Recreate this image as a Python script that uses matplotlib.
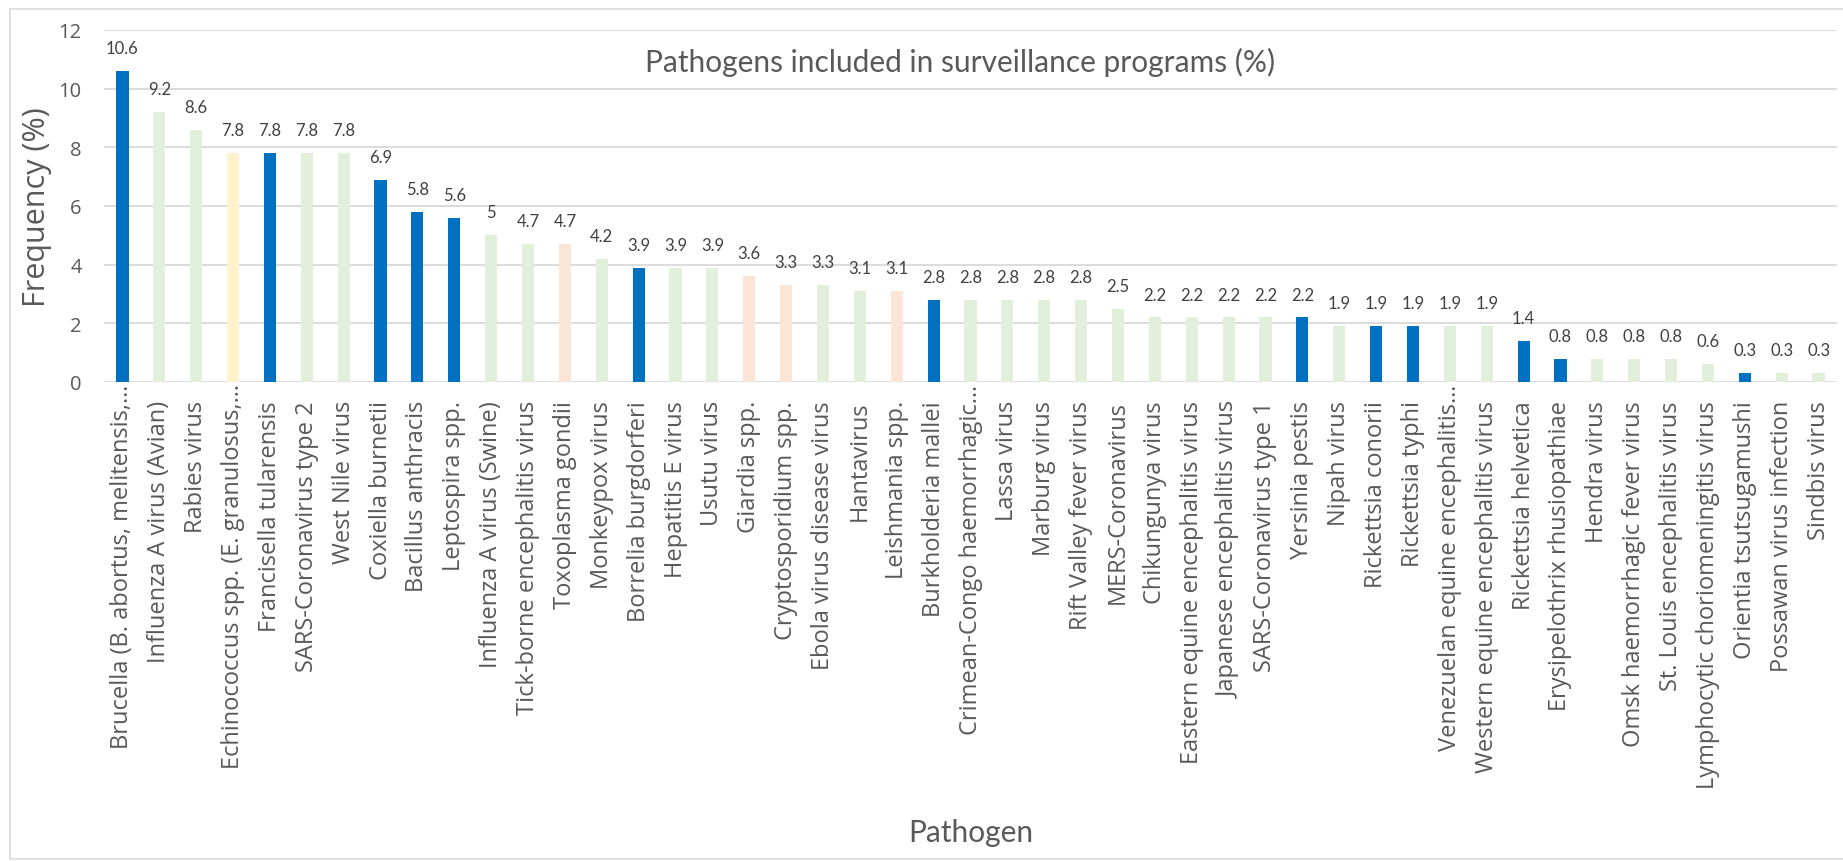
import matplotlib
matplotlib.use('Agg')
import matplotlib.pyplot as plt
import matplotlib.transforms as mtransforms
from matplotlib.patches import Rectangle

# Data
pathogens = [
    'Brucella (B. abortus, melitensis,…', 'Influenza A virus (Avian)', 'Rabies virus',
    'Echinococcus spp. (E. granulosus,…', 'Francisella tularensis', 'SARS-Coronavirus type 2',
    'West Nile virus', 'Coxiella burnetii', 'Bacillus anthracis', 'Leptospira spp.',
    'Influenza A virus (Swine)', 'Tick-borne encephalitis virus', 'Toxoplasma gondii',
    'Monkeypox virus', 'Borrelia burgdorferi', 'Hepatitis E virus', 'Usutu virus',
    'Giardia spp.', 'Cryptosporidium spp.', 'Ebola virus disease virus', 'Hantavirus',
    'Leishmania spp.', 'Burkholderia mallei', 'Crimean-Congo haemorrhagic…', 'Lassa virus',
    'Marburg virus', 'Rift Valley fever virus', 'MERS-Coronavirus', 'Chikungunya virus',
    'Eastern equine encephalitis virus', 'Japanese encephalitis virus', 'SARS-Coronavirus type 1',
    'Yersinia pestis', 'Nipah virus', 'Rickettsia conorii', 'Rickettsia typhi',
    'Venezuelan equine encephalitis…', 'Western equine encephalitis virus', 'Rickettsia helvetica',
    'Erysipelothrix rhusiopathiae', 'Hendra virus', 'Omsk haemorrhagic fever virus',
    'St. Louis encephalitis virus', 'Lymphocytic choriomeningitis virus', 'Orientia tsutsugamushi',
    'Possawan virus infection', 'Sindbis virus',
]
frequency = [
    10.6, 9.2, 8.6, 7.8, 7.8, 7.8, 7.8, 6.9, 5.8, 5.6,
    5, 4.7, 4.7, 4.2, 3.9, 3.9, 3.9, 3.6, 3.3, 3.3,
    3.1, 3.1, 2.8, 2.8, 2.8, 2.8, 2.8, 2.5, 2.2, 2.2,
    2.2, 2.2, 2.2, 1.9, 1.9, 1.9, 1.9, 1.9, 1.4, 0.8,
    0.8, 0.8, 0.8, 0.6, 0.3, 0.3, 0.3,
]
# pathogen type: b = bacteria, v = virus, h = helminth, p = protozoa
ptype = [
    'b', 'v', 'v', 'h', 'b', 'v', 'v', 'b', 'b', 'b',
    'v', 'v', 'p', 'v', 'b', 'v', 'v', 'p', 'p', 'v',
    'v', 'p', 'b', 'v', 'v', 'v', 'v', 'v', 'v', 'v',
    'v', 'v', 'b', 'v', 'b', 'b', 'v', 'v', 'b', 'b',
    'v', 'v', 'v', 'v', 'b', 'v', 'v',
]
yticks = [0, 2, 4, 6, 8, 10, 12]

type_colors = {'b': '#0070C0', 'v': '#E2EFDA', 'h': '#FFF2CC', 'p': '#FBE5D6'}
grey = '#595959'

W, H = 1843, 862
fig = plt.figure(figsize=(W / 100, H / 100), dpi=100)
ax = fig.add_axes([104 / W, 1 - 383 / H, (1837 - 104) / W, (383 - 31) / H])

# chart border
fig.patches.append(Rectangle((10 / W, 2 / H), 1.2, (858 - 8) / H, transform=fig.transFigure,
                             fill=False, edgecolor='#D9D9D9', linewidth=1.2, zorder=0))

x = list(range(len(pathogens)))
colors = [type_colors[t] for t in ptype]
bars = ax.bar(x, frequency, width=0.33, color=colors, zorder=3)

for xi, v in zip(x, frequency):
    ax.annotate(f'{v:g}', (xi, v), xytext=(0, 16.5), textcoords='offset points',
                ha='center', va='center', fontsize=12, color='#404040', family='Lato')

ax.set_xlim(-0.5, len(pathogens) - 0.5)
ax.set_ylim(0, 12)
ax.set_yticks(yticks)
ax.set_yticklabels([str(t) for t in yticks], fontsize=14.5, color=grey, family='Open Sans')
ax.tick_params(axis='y', length=0, pad=16)
ax.set_xticks(x)
ax.set_xticklabels(pathogens, rotation=90, fontsize=17, color=grey, family='Open Sans',
                   ha='center', va='top')
ax.tick_params(axis='x', length=0, pad=13)

# truncated labels: let the ellipsis reach toward the axis like the original
shift = mtransforms.ScaledTranslation(0, 12 / 72, fig.dpi_scale_trans)
for lab in ax.get_xticklabels():
    if lab.get_text().endswith('…'):
        lab.set_transform(lab.get_transform() + shift)

ax.grid(axis='y', color='#D9D9D9', linewidth=1.3, zorder=0)
for s in ax.spines.values():
    s.set_visible(False)

ax.set_ylabel('Frequency (%)', fontsize=22, color=grey, family='Open Sans', va='center')
ax.yaxis.set_label_coords(-0.0387, 0.5)
ax.set_xlabel('Pathogen', fontsize=21.5, color=grey, family='Lato', va='center')
ax.xaxis.set_label_coords(0.5, (383 - 833) / 352)

ax.text(0.494, (383 - 62) / 352, 'Pathogens included in surveillance programs (%)',
        transform=ax.transAxes, ha='center', va='center', fontsize=21.5, color=grey, family='Lato')

fig.savefig('out.png', dpi=100)
